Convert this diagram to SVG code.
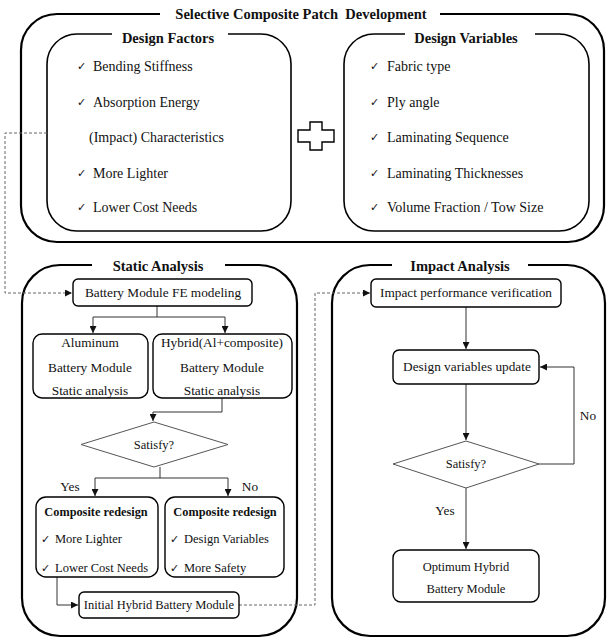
<svg xmlns="http://www.w3.org/2000/svg" width="607" height="639" viewBox="0 0 607 639">
<defs>
<style>
.big{fill:none;stroke:#000;stroke-width:2.2}
.mid{fill:none;stroke:#000;stroke-width:1.6}
.box{fill:#fff;stroke:#000;stroke-width:1.4}
.dia{fill:#fff;stroke:#555;stroke-width:1}
.ln{fill:none;stroke:#333;stroke-width:1}
.dash{fill:none;stroke:#666;stroke-width:1;stroke-dasharray:3,2}
.t{font-family:"Liberation Serif","Times New Roman",serif;font-size:14px;fill:#111}
.s{font-family:"Liberation Serif","Times New Roman",serif;font-size:13.3px;fill:#111}
.x{font-family:"Liberation Serif","Times New Roman",serif;font-size:12.5px;fill:#111}
.tb{font-family:"Liberation Serif","Times New Roman",serif;font-size:14.5px;font-weight:bold;fill:#111}
.xb{font-family:"Liberation Serif","Times New Roman",serif;font-size:12.3px;font-weight:bold;fill:#111}
.ck{font-family:"DejaVu Sans",sans-serif;font-size:11px;fill:#111}
</style>
<marker id="ah" viewBox="0 0 10 10" refX="10" refY="5" markerWidth="7" markerHeight="7" orient="auto" markerUnits="userSpaceOnUse">
<path d="M0,0 L10,5 L0,10 z" fill="#111"/>
</marker>
</defs>
<rect width="607" height="639" fill="#fff"/>

<g id="patch-development">
<rect class="big" x="21" y="14" width="583" height="228" rx="36"/>
<rect x="160" y="6" width="280" height="16" fill="#fff"/>
<text class="tb" x="301" y="19" text-anchor="middle">Selective Composite Patch&#160; Development</text>
</g>

<g id="design-factors">
<rect class="mid" x="47" y="34" width="244" height="197" rx="30"/>
<rect x="112" y="26" width="116" height="16" fill="#fff"/>
<text class="tb" x="168" y="43" text-anchor="middle">Design Factors</text>
<text class="ck" x="77" y="70">✓</text><text class="t" x="93" y="71">Bending Stiffness</text>
<text class="ck" x="77" y="106">✓</text><text class="t" x="93" y="107">Absorption Energy</text>
<text class="t" x="89" y="142">(Impact) Characteristics</text>
<text class="ck" x="77" y="177">✓</text><text class="t" x="93" y="178">More Lighter</text>
<text class="ck" x="77" y="211">✓</text><text class="t" x="93" y="212">Lower Cost Needs</text>
</g>

<g id="plus">
<path class="box" d="M310,122 h12 v8 h12 v12 h-12 v8 h-12 v-8 h-12 v-12 h12 z" stroke-width="1.3"/>
</g>

<g id="design-variables">
<rect class="mid" x="344" y="34" width="245" height="197" rx="30"/>
<rect x="405" y="26" width="130" height="16" fill="#fff"/>
<text class="tb" x="466" y="43" text-anchor="middle">Design Variables</text>
<text class="ck" x="370" y="70">✓</text><text class="t" x="387" y="71">Fabric type</text>
<text class="ck" x="370" y="106">✓</text><text class="t" x="387" y="107">Ply angle</text>
<text class="ck" x="370" y="141">✓</text><text class="t" x="387" y="142">Laminating Sequence</text>
<text class="ck" x="370" y="177">✓</text><text class="t" x="387" y="178">Laminating Thicknesses</text>
<text class="ck" x="370" y="211">✓</text><text class="t" x="387" y="212">Volume Fraction / Tow Size</text>
</g>

<g id="static-analysis">
<rect class="big" x="22" y="265" width="275" height="371" rx="38"/>
<rect x="92" y="257" width="133" height="16" fill="#fff"/>
<text class="tb" x="158" y="271" text-anchor="middle">Static Analysis</text>
</g>

<g id="impact-analysis">
<rect class="big" x="332" y="265" width="273" height="371" rx="38"/>
<rect x="392" y="257" width="136" height="16" fill="#fff"/>
<text class="tb" x="460" y="271" text-anchor="middle">Impact Analysis</text>
</g>

<g id="connectors">
<path class="dash" d="M47,133 H5 V293 H72" marker-end="url(#ah)"/>
<path class="ln" d="M157,306 V317 H93 V333" marker-end="url(#ah)"/>
<path class="ln" d="M157,317 H225 V333" marker-end="url(#ah)"/>
<path class="ln" d="M222,398 V412 H153 V421" marker-end="url(#ah)"/>
<path class="ln" d="M160,467 V478 H95 V496" marker-end="url(#ah)"/>
<path class="ln" d="M160,478 H228 V496" marker-end="url(#ah)"/>
<path class="ln" d="M57,577 V605 H78" marker-end="url(#ah)"/>
<path class="dash" d="M239,605 H315 V293 H370" marker-end="url(#ah)"/>
<path class="ln" d="M466,307 V349" marker-end="url(#ah)"/>
<path class="ln" d="M466,384 V440" marker-end="url(#ah)"/>
<path class="ln" d="M539,464 H574 V367 H540" marker-end="url(#ah)"/>
<path class="ln" d="M466,488 V549" marker-end="url(#ah)"/>
</g>

<g id="fe-modeling">
<rect class="box" x="73" y="279" width="179" height="27" rx="5"/>
<text class="s" x="163" y="297" text-anchor="middle">Battery Module FE modeling</text>
</g>

<g id="aluminum">
<rect class="box" x="33" y="334" width="115" height="64" rx="9"/>
<text class="s" x="90" y="347" text-anchor="middle">Aluminum</text>
<text class="s" x="90" y="372" text-anchor="middle">Battery Module</text>
<text class="s" x="90" y="395" text-anchor="middle">Static analysis</text>
</g>

<g id="hybrid">
<rect class="box" x="153" y="334" width="139" height="64" rx="9"/>
<text class="s" x="222" y="347" text-anchor="middle">Hybrid(Al+composite)</text>
<text class="s" x="222" y="372" text-anchor="middle">Battery Module</text>
<text class="s" x="222" y="395" text-anchor="middle">Static analysis</text>
</g>

<g id="satisfy-static">
<polygon class="dia" points="154,422 228,444.5 154,467 81,444.5"/>
<text class="x" x="154" y="449" text-anchor="middle">Satisfy?</text>
</g>
<text class="s" x="70" y="491" text-anchor="middle">Yes</text>
<text class="s" x="250" y="491" text-anchor="middle">No</text>

<g id="redesign-yes">
<rect class="box" x="36" y="497" width="122" height="80" rx="10"/>
<text class="xb" x="96" y="516" text-anchor="middle">Composite redesign</text>
<text class="ck" x="41" y="543">✓</text><text class="x" x="55" y="543">More Lighter</text>
<text class="ck" x="41" y="572">✓</text><text class="x" x="55" y="572">Lower Cost Needs</text>
</g>

<g id="redesign-no">
<rect class="box" x="165" y="497" width="119" height="80" rx="10"/>
<text class="xb" x="225" y="516" text-anchor="middle">Composite redesign</text>
<text class="ck" x="170" y="543">✓</text><text class="x" x="184" y="543">Design Variables</text>
<text class="ck" x="170" y="572">✓</text><text class="x" x="184" y="572">More Safety</text>
</g>

<g id="initial-hybrid">
<rect class="box" x="79" y="592" width="160" height="26" rx="5"/>
<text class="x" x="159" y="609" text-anchor="middle">Initial Hybrid Battery Module</text>
</g>

<g id="impact-verification">
<rect class="box" x="371" y="279" width="190" height="28" rx="5"/>
<text class="s" x="466" y="297" text-anchor="middle">Impact performance verification</text>
</g>

<g id="variables-update">
<rect class="box" x="393" y="350" width="146" height="34" rx="6"/>
<text class="s" x="467" y="371" text-anchor="middle">Design variables update</text>
</g>

<g id="satisfy-impact">
<polygon class="dia" points="466,441 539,464 466,488 393,464"/>
<text class="x" x="466" y="468" text-anchor="middle">Satisfy?</text>
</g>
<text class="s" x="588" y="420" text-anchor="middle">No</text>
<text class="s" x="445" y="515" text-anchor="middle">Yes</text>

<g id="optimum">
<rect class="box" x="393" y="550" width="146" height="52" rx="8"/>
<text class="x" x="466" y="571" text-anchor="middle">Optimum Hybrid</text>
<text class="x" x="466" y="593" text-anchor="middle">Battery Module</text>
</g>
</svg>
